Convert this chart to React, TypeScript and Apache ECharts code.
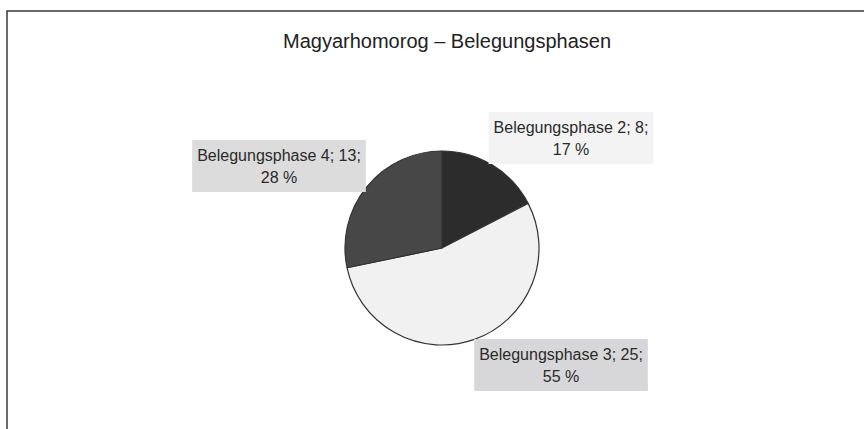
import React, { useEffect, useRef } from "react";
import * as echarts from "echarts";

const titleText = "Magyarhomorog – Belegungsphasen";
const categories = ["Belegungsphase 2", "Belegungsphase 3", "Belegungsphase 4"];
const values = [8, 25, 13];
const percents = [17, 55, 28];
const sliceColors = ["#2c2c2c", "#f1f1f1", "#474747"];
const labelBackgrounds = ["#f3f3f4", "#d7d7d9", "#dcdcdd"];
const labelCenters: [number, number][] = [
  [571, 138],
  [561, 365],
  [279, 166],
];

export default function App() {
  const ref = useRef<HTMLDivElement>(null);
  useEffect(() => {
    if (!ref.current) return;
    const chart = echarts.init(ref.current, undefined, { renderer: "svg" });
    chart.setOption({
      animation: false,
      backgroundColor: "#ffffff",
      title: {
        text: titleText,
        left: 442,
        textAlign: "center",
        top: 26,
        textStyle: {
          fontFamily: "Liberation Sans, Arial, sans-serif",
          fontSize: 20,
          fontWeight: "normal",
          color: "#222222",
        },
      },
      graphic: [
        {
          type: "polyline",
          shape: { points: [[7, 429], [7, 11], [864, 11]] },
          style: { stroke: "#3a3a3a", lineWidth: 1.5, fill: "none" },
          silent: true,
        },
      ],
      series: [
        {
          type: "pie",
          center: [442, 248],
          radius: 97,
          startAngle: 90,
          clockwise: true,
          avoidLabelOverlap: false,
          labelLine: { show: false },
          label: {
            show: true,
            position: "outside",
            fontFamily: "Liberation Sans, Arial, sans-serif",
            fontSize: 16,
            lineHeight: 22,
            color: "#2a2a2a",
            align: "center",
            padding: [4, 5, 4, 5],
            formatter: (p: any) =>
              `${categories[p.dataIndex]}; ${values[p.dataIndex]};\n${percents[p.dataIndex]} %`,
          },
          labelLayout: (params: any) => {
            const c = labelCenters[params.dataIndex];
            return { x: c[0], y: c[1], align: "center", verticalAlign: "middle" };
          },
          itemStyle: { borderColor: "#333333", borderWidth: 1.2 },
          emphasis: { disabled: true },
          data: categories.map((name, i) => ({
            name,
            value: values[i],
            itemStyle: { color: sliceColors[i] },
            label: { backgroundColor: labelBackgrounds[i] },
          })),
        },
      ],
    });
    return () => chart.dispose();
  }, []);
  return (
    <div
      ref={ref}
      style={{ position: "fixed", left: 0, top: 0, width: 864, height: 429 }}
    />
  );
}
